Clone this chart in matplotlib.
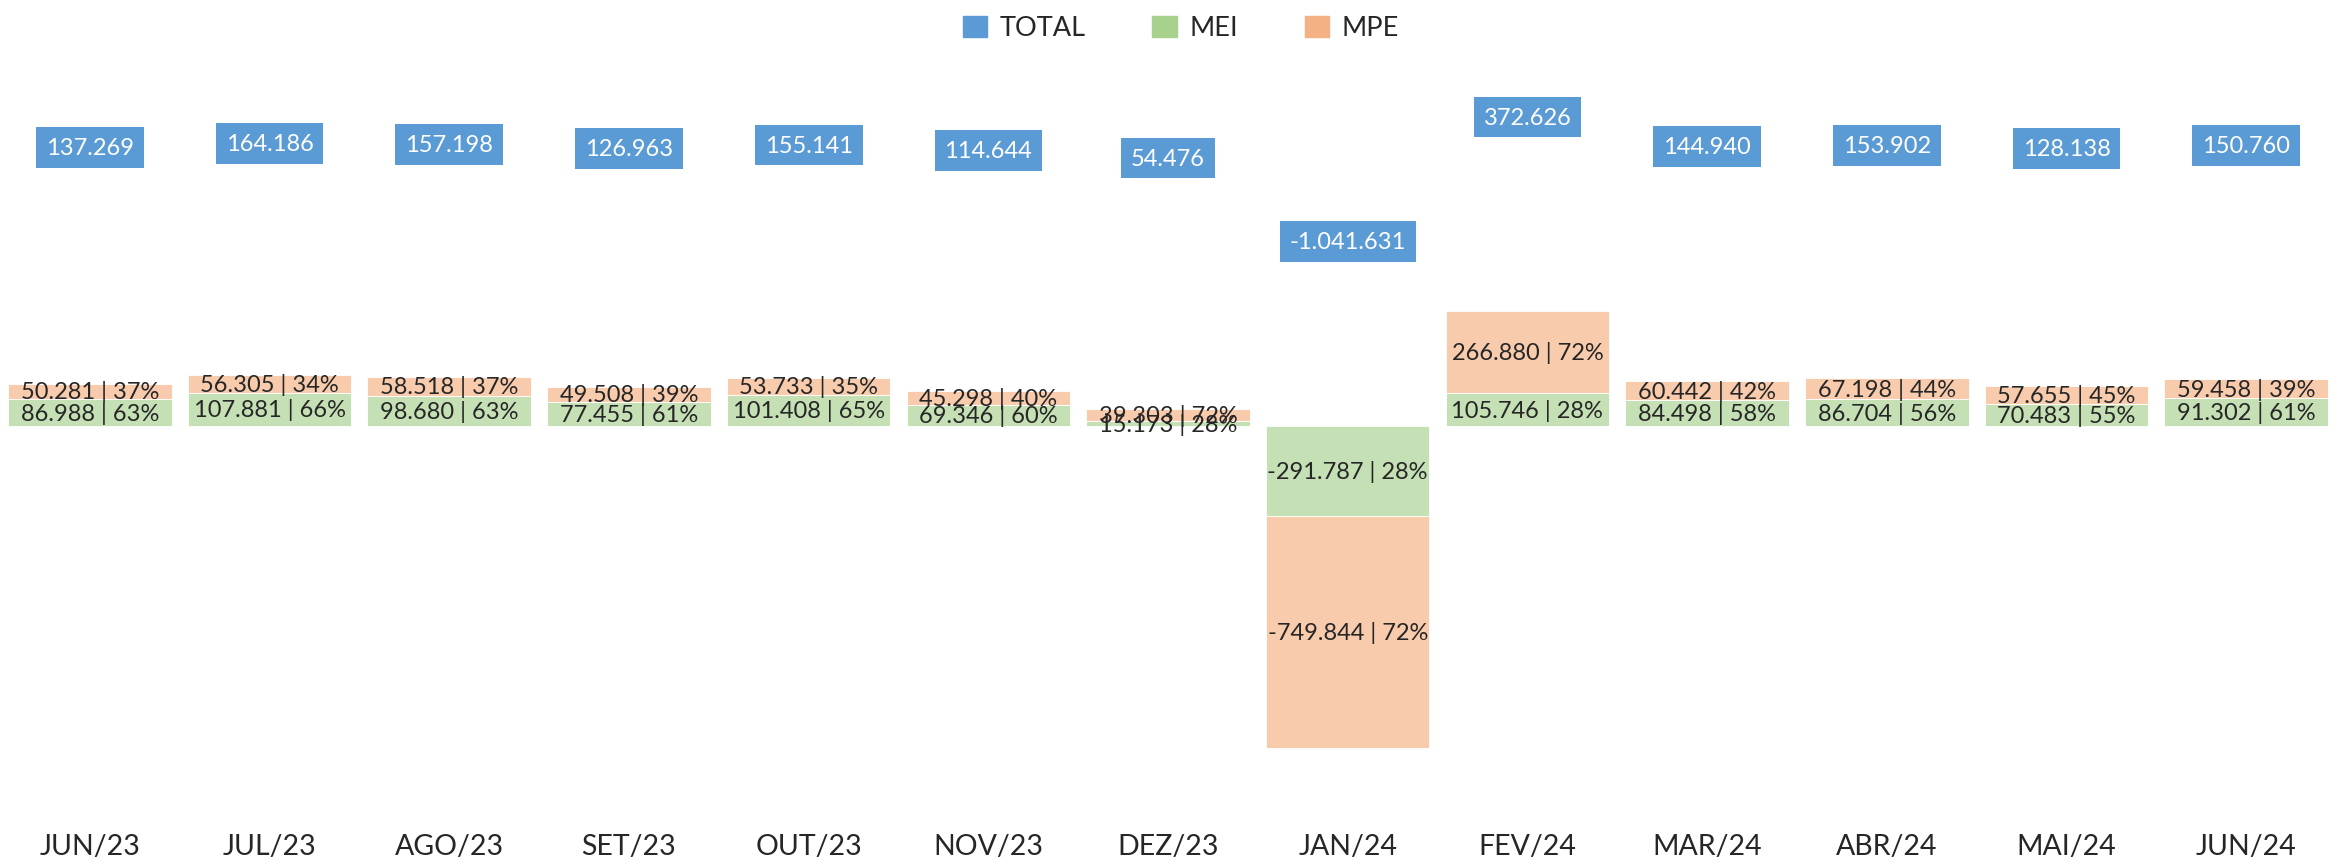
import matplotlib
matplotlib.use("Agg")
import matplotlib.pyplot as plt
from matplotlib import font_manager
from matplotlib.patches import Patch

months = ['JUN/23', 'JUL/23', 'AGO/23', 'SET/23', 'OUT/23', 'NOV/23', 'DEZ/23',
          'JAN/24', 'FEV/24', 'MAR/24', 'ABR/24', 'MAI/24', 'JUN/24']
mei = [86988, 107881, 98680, 77455, 101408, 69346, 15173,
       -291787, 105746, 84498, 86704, 70483, 91302]
mpe = [50281, 56305, 58518, 49508, 53733, 45298, 39303,
       -749844, 266880, 60442, 67198, 57655, 59458]
total = [137269, 164186, 157198, 126963, 155141, 114644, 54476,
         -1041631, 372626, 144940, 153902, 128138, 150760]
mei_pct = [63, 66, 63, 61, 65, 60, 28, 28, 28, 58, 56, 55, 61]
mpe_pct = [37, 34, 37, 39, 35, 40, 72, 72, 72, 42, 44, 45, 39]

names = {f.name for f in font_manager.fontManager.ttflist}
FONT = 'Liberation Sans Narrow' if 'Liberation Sans Narrow' in names else 'Lato'
plt.rcParams['font.family'] = [FONT, 'DejaVu Sans']

BLUE = '#5B9BD5'
GREEN_L, GREEN_B = '#A9D18E', '#C5E0B4'
ORANGE_L, ORANGE_B = '#F4B183', '#F8CBAD'
TXT = '#262626'

W, H = 2336, 862
fig = plt.figure(figsize=(W / 100, H / 100), dpi=100)
top_px, bot_px = 60, 780
ax = fig.add_axes([0, 1 - bot_px / H, 1, (bot_px - top_px) / H])

def fmt(v):
    return format(v, ',').replace(',', '.')

x = list(range(len(months)))
# primary axis scale: baseline pixel 427, 3237 units / px
base_px, sc1 = 427, 3237
ax.set_ylim((base_px - bot_px) * sc1, (base_px - top_px) * sc1)
ax.set_xlim(-0.5, len(months) - 0.5)

bw = 0.91
ax.bar(x, mei, width=bw, color=GREEN_B, edgecolor='white', linewidth=0.6)
ax.bar(x, mpe, width=bw, bottom=mei, color=ORANGE_B, edgecolor='white', linewidth=0.6)

for i in x:
    ax.text(i, mei[i] / 2, f"{fmt(mei[i])} | {mei_pct[i]}%", ha='center', va='center',
            fontsize=17, color=TXT)
    ax.text(i, mei[i] + mpe[i] / 2, f"{fmt(mpe[i])} | {mpe_pct[i]}%", ha='center',
            va='center', fontsize=17, color=TXT)

# secondary axis for TOTAL
ax2 = ax.twinx()
base2, sc2 = 137, 7760
ax2.set_ylim((base2 - bot_px) * sc2, (base2 - top_px) * sc2)
ax2.plot(x, total, linestyle='none', marker=None)
for i in x:
    off = -20.9 if total[i] >= 0 else 20.9
    ax2.annotate(fmt(total[i]), (i, total[i]), xytext=(0, off), textcoords='offset points',
                 ha='center', va='center', fontsize=17, color='white',
                 bbox=dict(boxstyle='square,pad=0.42', fc=BLUE, ec='none'))

for a in (ax, ax2):
    for s in a.spines.values():
        s.set_visible(False)
    a.set_yticks([])
ax.set_xticks(x)
ax.set_xticklabels(months, fontsize=20.5, color=TXT)
ax.tick_params(axis='x', length=0, pad=39)

handles = [Patch(color=BLUE, label='TOTAL'), Patch(color=GREEN_L, label='MEI'),
           Patch(color=ORANGE_L, label='MPE')]
fig.legend(handles=handles, loc='center', bbox_to_anchor=(1181 / W, 1 - 29 / H), ncol=3,
           frameon=False, fontsize=19.5, handlelength=0.89, handleheight=0.81,
           handletextpad=0.48, columnspacing=2.45, labelcolor=TXT)

fig.savefig('out.png', dpi=100)
